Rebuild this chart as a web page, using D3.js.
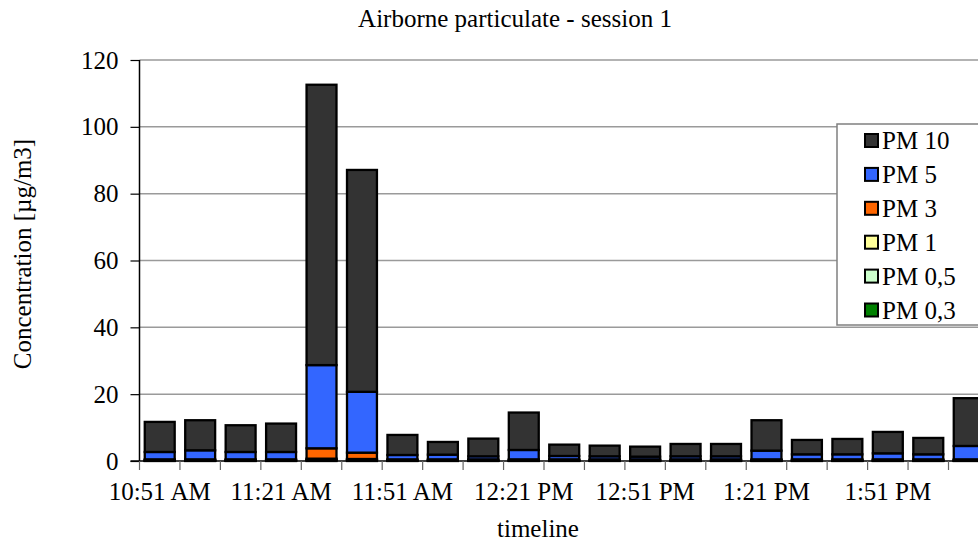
<!DOCTYPE html>
<html>
<head>
<meta charset="utf-8">
<script src="https://cdn.jsdelivr.net/npm/d3@7"></script>
<style>
body{margin:0;background:#fff;}
svg{display:block;}
text{font-family:"Liberation Serif","Times New Roman",serif;fill:#000;}
</style>
</head>
<body>
<svg id="screen" width="978" height="542"></svg>
<script>
// timestamps, one bar each (every 3rd one gets a label)
var times = ["10:51 AM","11:01 AM","11:11 AM","11:21 AM","11:31 AM","11:41 AM","11:51 AM",
  "12:01 PM","12:11 PM","12:21 PM","12:31 PM","12:41 PM","12:51 PM","1:01 PM",
  "1:11 PM","1:21 PM","1:31 PM","1:41 PM","1:51 PM","2:01 PM","2:11 PM"];

// stacked from the bottom up
var pm03 = [0.05,0.05,0.05,0.05,0.2,0.2,0.05,0.05,0.05,0.05,0.05,0.05,0.05,0.05,0.05,0.05,0.05,0.05,0.05,0.05,0.05];
var pm05 = [0.05,0.05,0.05,0.05,0.2,0.2,0.05,0.05,0.05,0.05,0.05,0.05,0.05,0.05,0.05,0.05,0.05,0.05,0.05,0.05,0.05];
var pm1  = [0.1,0.1,0.1,0.1,0.3,0.2,0.1,0.1,0.1,0.1,0.1,0.1,0.1,0.1,0.1,0.1,0.1,0.1,0.1,0.1,0.1];
var pm3  = [0.3,0.3,0.3,0.3,3.1,1.9,0.3,0.3,0.3,0.3,0.3,0.3,0.3,0.3,0.3,0.3,0.3,0.3,0.3,0.3,0.3];
var pm5  = [2.2,2.7,2.2,2.2,24.9,18.2,1.3,1.4,0.9,2.8,1.0,0.9,0.8,0.9,0.9,2.6,1.5,1.5,1.8,1.5,4.0];
var pm10 = [9.0,9.0,8.0,8.5,83.9,66.4,6.0,3.8,5.3,11.2,3.4,3.2,3.0,3.7,3.7,9.1,4.3,4.6,6.4,4.9,14.3];

var seriesNames = ["PM 0,3","PM 0,5","PM 1","PM 3","PM 5","PM 10"];
var seriesData = [pm03, pm05, pm1, pm3, pm5, pm10];
var colors = ["#008000","#ccffcc","#ffff99","#ff6600","#3366ff","#333333"];
var yTicks = [0,20,40,60,80,100,120];

var svg = d3.select("#screen");
var plotLeft = 139.5, plotBottom = 461, plotTop = 60;
var step = 40.45;
var plotRight = plotLeft + step*times.length;

var x = d3.scaleBand().domain(times).range([plotLeft, plotRight]).paddingInner(0.26).paddingOuter(0.13);
var y = d3.scaleLinear().domain([0,120]).range([plotBottom, plotTop]);

// build rows for d3.stack
var rows = times.map(function(t, i){
  var r = {time: t};
  seriesNames.forEach(function(n, k){ r[n] = seriesData[k][i]; });
  return r;
});
var stacked = d3.stack().keys(seriesNames)(rows);

//gridlines
svg.append("g").selectAll("line").data(yTicks.slice(1)).enter().append("line")
  .attr("x1", plotLeft).attr("x2", plotRight)
  .attr("y1", function(d){ return y(d); }).attr("y2", function(d){ return y(d); })
  .attr("stroke", "#9a9a9a").attr("stroke-width", 1.5);

//bars
var layers = svg.append("g").selectAll("g").data(stacked).enter().append("g")
  .attr("fill", function(d, i){ return colors[i]; });
layers.selectAll("rect").data(function(d){ return d; }).enter().append("rect")
  .attr("x", function(d){ return x(d.data.time); })
  .attr("width", x.bandwidth())
  .attr("y", function(d){ return y(d[1]); })
  .attr("height", function(d){ return y(d[0]) - y(d[1]); })
  .attr("stroke", "#000").attr("stroke-width", 2.3);

//y axis
var yAxis = svg.append("g").attr("transform", "translate(" + plotLeft + ",0)")
  .call(d3.axisLeft(y).tickValues(yTicks).tickSize(9).tickPadding(12));
yAxis.selectAll("text").style("font-size", "25px").style("font-family", "Liberation Serif, serif");
yAxis.selectAll("line").attr("stroke", "#000").attr("stroke-width", 1.2);
yAxis.select(".domain").attr("stroke", "#000").attr("stroke-width", 1.5).attr("d", "M0," + plotTop + "V" + plotBottom);

//x axis line and ticks on category borders
svg.append("line").attr("x1", plotLeft - 9).attr("x2", plotRight).attr("y1", plotBottom).attr("y2", plotBottom)
  .attr("stroke", "#000").attr("stroke-width", 1.5);
var borders = times.map(function(t){ return x(t) - x.step()*0.13; });
svg.append("g").selectAll("line").data(borders).enter().append("line")
  .attr("x1", function(d){ return d; }).attr("x2", function(d){ return d; })
  .attr("y1", plotBottom).attr("y2", plotBottom + 9)
  .attr("stroke", "#666").attr("stroke-width", 1.2);

svg.append("g").selectAll("text").data(times.filter(function(d, i){ return i % 3 == 0; })).enter().append("text")
  .attr("x", function(d){ return x(d) + x.bandwidth()/2; })
  .attr("y", 500).attr("text-anchor", "middle").style("font-size", "25px")
  .text(function(d){ return d; });

//titles
svg.append("text").attr("x", 515).attr("y", 27).attr("text-anchor", "middle").style("font-size", "25px")
  .text("Airborne particulate - session 1");
svg.append("text").attr("x", 538).attr("y", 537).attr("text-anchor", "middle").style("font-size", "25px")
  .text("timeline");
svg.append("text").attr("transform", "translate(31,254) rotate(-90)").attr("text-anchor", "middle").style("font-size", "25px")
  .text("Concentration [µg/m3]");

//legend, top entry first
var legend = svg.append("g").attr("transform", "translate(837,124)");
legend.append("rect").attr("x", 0).attr("y", 0).attr("width", 160).attr("height", 201)
  .attr("fill", "#fff").attr("stroke", "#808080").attr("stroke-width", 1.5);
var items = legend.selectAll("g.item").data(seriesNames.slice().reverse()).enter().append("g")
  .attr("transform", function(d, i){ return "translate(0," + (16 + i*33.9) + ")"; });
items.append("rect").attr("x", 28).attr("y", -6).attr("width", 13).attr("height", 13)
  .attr("fill", function(d){ return colors[seriesNames.indexOf(d)]; })
  .attr("stroke", "#000").attr("stroke-width", 2);
items.append("text").attr("x", 45).attr("y", 9).style("font-size", "25px").text(function(d){ return d; });
</script>
</body>
</html>
